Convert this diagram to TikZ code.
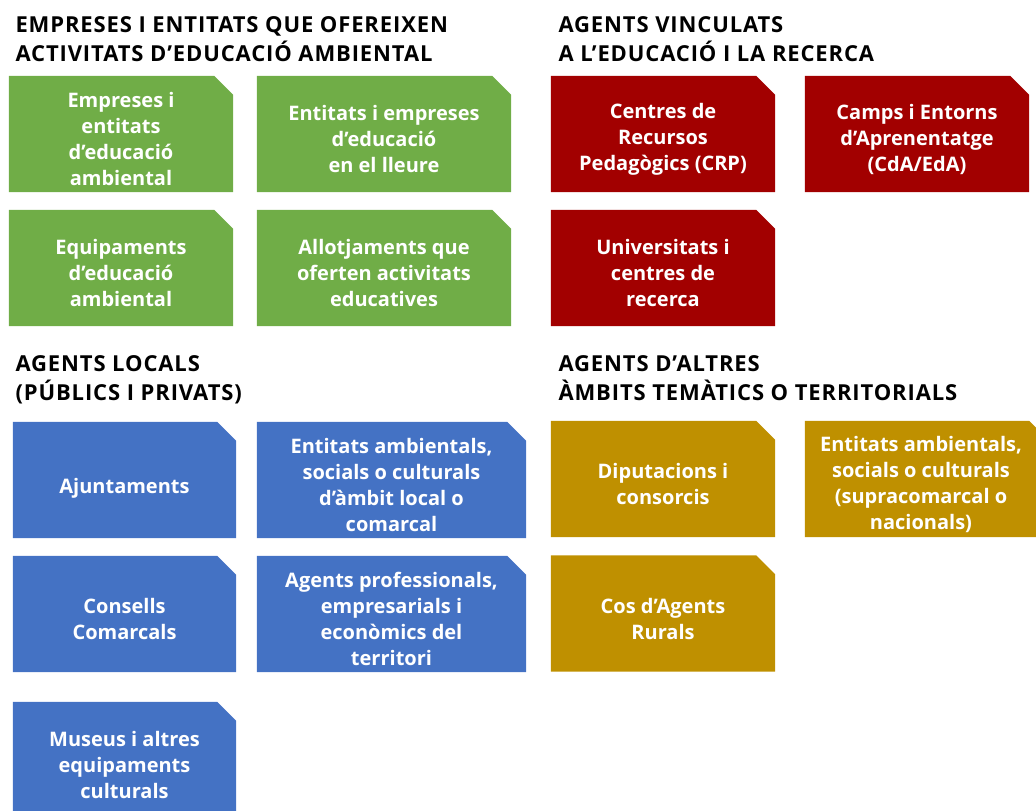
\documentclass[tikz,border=0pt]{standalone}
\usepackage{fontspec}
\setmainfont{Open Sans}
\usetikzlibrary{calc}
\definecolor{verd}{HTML}{70AD47}
\definecolor{vermell}{HTML}{A20000}
\definecolor{blau}{HTML}{4472C4}
\definecolor{ocre}{HTML}{BF9000}
\def\agentbox[#1](#2){\fill[#1] (#2.south west) |- ([xshift=-19pt]#2.north east) -- ([yshift=-19pt]#2.north east) -- (#2.south east) -- cycle;}

\begin{document}
\begin{tikzpicture}[x=1pt, y=-1pt,
	agent/.style={rectangle, inner sep=0pt, minimum height=116pt},
	agenttext/.style={text=white, align=center, font=\bfseries\fontsize{20}{26}\selectfont},
	capsal/.style={anchor=base west, align=left, font=\bfseries\fontsize{22}{29}\selectfont\addfontfeature{LetterSpace=4}}]
		%%%%% START %%%%%
		\useasboundingbox (0, 0) rectangle (1036, 811);
		\clip (0, 0) rectangle (1036, 811);
		
		% capcaleres
		\node[capsal] (cap-emp) at (12, 61) {EMPRESES I ENTITATS QUE OFEREIXEN\\ACTIVITATS D’EDUCACIÓ AMBIENTAL};
		\node[capsal] (cap-rec) at (555, 61) {AGENTS VINCULATS\\A L’EDUCACIÓ I LA RECERCA};
		\node[capsal] (cap-loc) at (12, 400) {AGENTS LOCALS\\(PÚBLICS I PRIVATS)};
		\node[capsal] (cap-alt) at (555, 400) {AGENTS D’ALTRES\\ÀMBITS TEMÀTICS O TERRITORIALS};
		
		% empreses i entitats
		\node[agent, minimum width=224pt] (emp) at (121, 134) {};
		\agentbox[verd](emp);
		\node[agenttext] (emp-t) at ([yshift=-5pt]emp.center) {Empreses i\\entitats\\d’educació\\ambiental};
		\node[agent, minimum width=254pt] (lleure) at (384, 134) {};
		\agentbox[verd](lleure);
		\node[agenttext] (lleure-t) at ([yshift=-5pt]lleure.center) {Entitats i empreses\\d’educació\\en el lleure};
		\node[agent, minimum width=224pt] (equip) at (121, 268) {};
		\agentbox[verd](equip);
		\node[agenttext] (equip-t) at ([yshift=-5pt]equip.center) {Equipaments\\d’educació\\ambiental};
		\node[agent, minimum width=254pt] (allot) at (384, 268) {};
		\agentbox[verd](allot);
		\node[agenttext] (allot-t) at ([yshift=-5pt]allot.center) {Allotjaments que\\oferten activitats\\educatives};
		
		% educacio i recerca
		\node[agent, minimum width=224pt] (crp) at (663, 134) {};
		\agentbox[vermell](crp);
		\node[agenttext] (crp-t) at ([yshift=-5pt]crp.center) {Centres de\\Recursos\\Pedagògics (CRP)};
		\node[agent, minimum width=224pt] (cda) at (917, 134) {};
		\agentbox[vermell](cda);
		\node[agenttext] (cda-t) at ([yshift=-5pt]cda.center) {Camps i Entorns\\d’Aprenentatge\\(CdA/EdA)};
		\node[agent, minimum width=224pt] (univ) at (663, 268) {};
		\agentbox[vermell](univ);
		\node[agenttext] (univ-t) at ([yshift=-5pt]univ.center) {Universitats i\\centres de\\recerca};
		
		% agents locals
		\node[agent, minimum width=223pt] (ajunt) at (124.5, 480) {};
		\agentbox[blau](ajunt);
		\node[agenttext] (ajunt-t) at ([yshift=-8pt]ajunt.center) {Ajuntaments};
		\node[agent, minimum width=269pt] (entloc) at (391.5, 480) {};
		\agentbox[blau](entloc);
		\node[agenttext] (entloc-t) at ([yshift=-5pt]entloc.center) {Entitats ambientals,\\socials o culturals\\d’àmbit local o\\comarcal};
		\node[agent, minimum width=223pt] (consells) at (124.5, 614) {};
		\agentbox[blau](consells);
		\node[agenttext] (consells-t) at ([yshift=-5pt]consells.center) {Consells\\Comarcals};
		\node[agent, minimum width=269pt] (prof) at (391.5, 614) {};
		\agentbox[blau](prof);
		\node[agenttext] (prof-t) at ([yshift=-5pt]prof.center) {Agents professionals,\\empresarials i\\econòmics del\\territori};
		\node[agent, minimum width=223pt] (museus) at (124.5, 760) {};
		\agentbox[blau](museus);
		\node[agenttext] (museus-t) at ([yshift=-5pt]museus.center) {Museus i altres\\equipaments\\culturals};
		
		% altres ambits
		\node[agent, minimum width=224pt] (dipu) at (663, 479) {};
		\agentbox[ocre](dipu);
		\node[agenttext] (dipu-t) at ([yshift=-5pt]dipu.center) {Diputacions i\\consorcis};
		\node[agent, minimum width=243pt] (entnac) at (926.5, 479) {};
		\agentbox[ocre](entnac);
		\node[agenttext] (entnac-t) at ([xshift=-5.5pt, yshift=-5pt]entnac.center) {Entitats ambientals,\\socials o culturals\\(supracomarcal o\\nacionals)};
		\node[agent, minimum width=224pt] (rurals) at (663, 613.5) {};
		\agentbox[ocre](rurals);
		\node[agenttext] (rurals-t) at ([yshift=-5pt]rurals.center) {Cos d’Agents\\Rurals};
		
		%%%%% END %%%%%
	\end{tikzpicture}
\end{document}
